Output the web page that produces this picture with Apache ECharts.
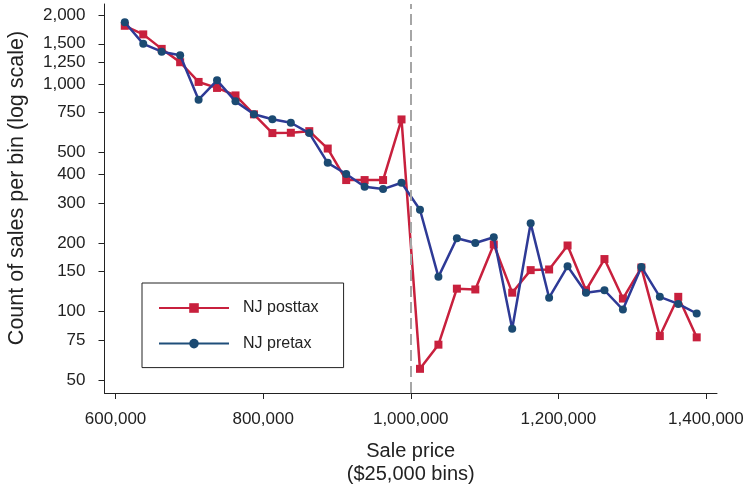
<!DOCTYPE html>
<html>
<head>
<meta charset="utf-8">
<script src="https://cdn.jsdelivr.net/npm/echarts@6/dist/echarts.min.js"></script>
<style>
  html, body { margin: 0; padding: 0; background: #fff; }
  #my_chart { width: 748px; height: 493px; }
</style>
</head>
<body>
<div id="my_chart"></div>
<script>
// bin centres ($25,000 bins)
var binCenters = [612500, 637500, 662500, 687500, 712500, 737500, 762500, 787500,
    812500, 837500, 862500, 887500, 912500, 937500, 962500, 987500,
    1012500, 1037500, 1062500, 1087500, 1112500, 1137500, 1162500, 1187500,
    1212500, 1237500, 1262500, 1287500, 1312500, 1337500, 1362500, 1387500];

var posttax = [1800, 1650, 1425, 1245, 1020, 960, 890, 735,
    608, 610, 620, 520, 378, 378, 378, 698,
    56, 71.5, 126, 125, 197, 121, 152, 153,
    195, 124, 170, 114, 156, 78, 116, 77];

var pretax = [1865, 1500, 1385, 1335, 852, 1037, 838, 735,
    699, 675, 608, 450, 402, 353, 345, 368,
    280, 142, 210, 200, 212, 84, 244, 115,
    158, 121, 124, 102, 157, 116, 108, 98];

var yTicks = [50, 75, 100, 150, 200, 300, 400, 500, 750, 1000, 1250, 1500, 2000];
var xTicks = [600000, 800000, 1000000, 1200000, 1400000];
var cutoff = 1000000;

var fontName = 'Liberation Sans, Arial, sans-serif';

function toPoints(vals) {
    return vals.map(function (v, i) {
        return [binCenters[i], Math.log10(v)];
    });
}

function fmt(n) {
    return Math.round(n).toLocaleString('en-US');
}

var myChart = echarts.init(document.getElementById('my_chart'));

var option = {
    backgroundColor: '#fff',
    animation: false,
    grid: {
        left: 104.5,
        right: 31,
        top: 4,
        bottom: 100
    },
    legend: {
        orient: 'vertical',
        left: 142,
        top: 283,
        padding: [17, 25, 16, 16],
        itemWidth: 70,
        itemHeight: 12,
        itemGap: 19.6,
        borderColor: '#222',
        borderWidth: 1,
        borderRadius: 0,
        textStyle: {
            fontFamily: fontName,
            fontSize: 16,
            color: '#222',
            padding: [0, 0, 0, 9]
        },
        data: [
            {name: 'NJ posttax'},
            {name: 'NJ pretax', lineStyle: {color: '#1f4e7a'}}
        ]
    },
    xAxis: {
        type: 'value',
        min: 585000,
        max: 1415000,
        splitLine: {show: false},
        axisLine: {lineStyle: {color: '#222', width: 1}},
        axisTick: {
            length: 6,
            customValues: xTicks,
            lineStyle: {color: '#222'}
        },
        axisLabel: {
            customValues: xTicks,
            margin: 18,
            fontFamily: fontName,
            fontSize: 17,
            color: '#222',
            formatter: function (v) { return fmt(v); }
        },
        name: 'Sale price\n($25,000 bins)',
        nameLocation: 'middle',
        nameGap: 47,
        nameTextStyle: {
            fontFamily: fontName,
            fontSize: 20,
            color: '#222',
            lineHeight: 23
        }
    },
    yAxis: {
        type: 'value',
        min: 1.642,
        max: 3.351,
        splitLine: {show: false},
        axisLine: {show: true, lineStyle: {color: '#222', width: 1}},
        axisTick: {
            show: true,
            length: 6,
            customValues: yTicks.map(Math.log10),
            lineStyle: {color: '#222'}
        },
        axisLabel: {
            customValues: yTicks.map(Math.log10),
            margin: 19,
            fontFamily: fontName,
            fontSize: 17,
            color: '#222',
            formatter: function (v) { return fmt(Math.pow(10, v)); }
        }
    },
    graphic: [{
        type: 'text',
        x: 17,
        y: 188,
        rotation: Math.PI / 2,
        style: {
            text: 'Count of sales per bin (log scale)',
            fontFamily: fontName,
            fontSize: 21.5,
            fill: '#222',
            align: 'center',
            verticalAlign: 'middle'
        }
    }],
    series: [
        {
            type: 'line',
            name: 'cutoff',
            data: [],
            z: 1,
            markLine: {
                silent: true,
                symbol: 'none',
                label: {show: false},
                lineStyle: {color: '#a6a6a6', type: [11, 5], width: 2},
                data: [{xAxis: cutoff}]
            }
        },
        {
            type: 'line',
            name: 'NJ posttax',
            data: toPoints(posttax),
            z: 2,
            symbol: 'rect',
            symbolSize: 8,
            itemStyle: {color: '#c8203d'},
            lineStyle: {color: '#c8203d', width: 2.5}
        },
        {
            type: 'line',
            name: 'NJ pretax',
            data: toPoints(pretax),
            z: 3,
            symbol: 'circle',
            symbolSize: 8,
            itemStyle: {color: '#1b4a72'},
            lineStyle: {color: '#2e3a96', width: 2.5}
        }
    ]
};

myChart.setOption(option);
</script>
</body>
</html>
